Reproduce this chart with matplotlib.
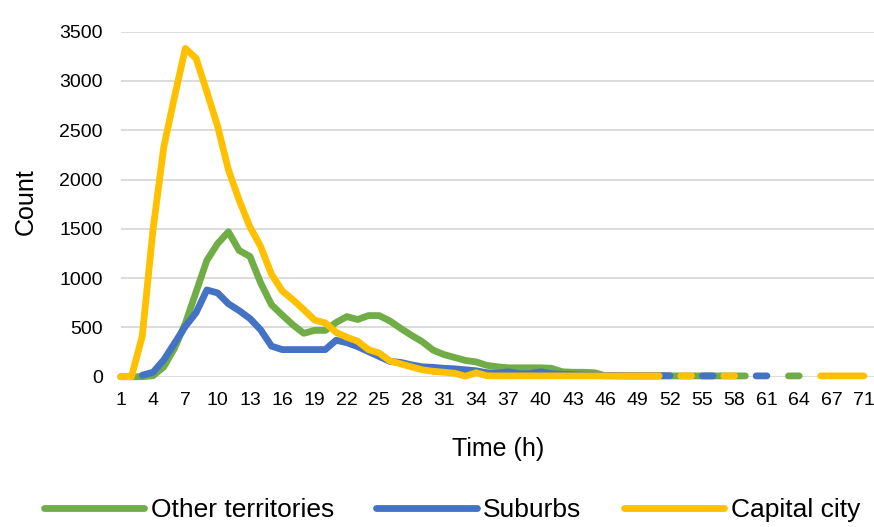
import numpy as np
import matplotlib
matplotlib.use("Agg")
import matplotlib.pyplot as plt
from matplotlib import font_manager

nan = np.nan

# hour labels on the category axis (one hour absent before 71)
hours = list(range(1, 70)) + [71]

# counts per hour (nan = no value, gap in line)
other_territories = [
    0, 0, 0, 10, 100, 290, 540, 860, 1180, 1350,
    1470, 1280, 1220, 950, 730, 625, 525, 440, 470, 470,
    550, 610, 580, 620, 620, 565, 490, 420, 355, 270,
    225, 195, 165, 150, 115, 100, 90, 90, 90, 90,
    85, 50, 45, 45, 40, 10, 8, 8, 8, 8,
    8, 8, 8, 8, 8, 8, 8, 8, 8, nan,
    nan, nan, 8, 8, nan, nan, nan, nan, nan, nan,
]
suburbs = [
    nan, nan, 15, 45, 170, 340, 510, 650, 880, 850,
    740, 670, 590, 475, 310, 275, 275, 275, 275, 275,
    370, 345, 305, 255, 205, 155, 145, 120, 100, 95,
    85, 80, 70, 60, 40, 35, 50, 30, 30, 50,
    30, 25, 20, 15, 15, 12, 12, 10, 10, 10,
    10, 10, nan, nan, 8, 8, nan, nan, nan, 8,
    8, nan, nan, nan, nan, nan, nan, nan, nan, nan,
]
capital_city = [
    0, 0, 410, 1490, 2330, 2840, 3330, 3230, 2890, 2540,
    2100, 1790, 1520, 1320, 1040, 870, 780, 680, 575, 545,
    450, 400, 360, 275, 240, 160, 130, 100, 70, 55,
    45, 35, 5, 40, 10, 8, 8, 8, 8, 8,
    8, 8, 8, 8, 8, 8, 8, 8, 8, 8,
    8, nan, 8, 8, nan, nan, 8, 8, nan, nan,
    nan, nan, nan, nan, nan, 8, 8, 8, 8, 8,
]

series = [
    ("Other territories", other_territories, "#70AD47"),
    ("Suburbs", suburbs, "#4472C4"),
    ("Capital city", capital_city, "#FFC000"),
]


def pick_font(names):
    for n in names:
        try:
            font_manager.findfont(n, fallback_to_default=False)
            return n
        except Exception:
            continue
    return "DejaVu Sans"


tick_font = pick_font(["Liberation Sans", "Arial"])
title_font = pick_font(["Liberation Sans Narrow", "Liberation Sans"])
plt.rcParams["font.family"] = [tick_font, "DejaVu Sans"]

W, H = 874, 527
fig = plt.figure(figsize=(W / 100, H / 100), dpi=100)
left_px, right_px = 120.7, 874
bot_px, top_px = 376.7, 31.7
ax = fig.add_axes([left_px / W, 1 - bot_px / H,
                   (right_px - left_px) / W, (bot_px - top_px) / H])

x = np.arange(len(hours))
for name, vals, col in series:
    ax.plot(x, np.array(vals, dtype=float), color=col, lw=4.9,
            solid_capstyle="round", solid_joinstyle="round",
            label=name, clip_on=False, zorder=3)

ax.set_xlim(0, (right_px - left_px) / 10.77)
ax.set_ylim(0, 3500)
ax.set_yticks(np.arange(0, 3501, 500))
ax.set_xticks(x[::3])
ax.set_xticklabels([str(h) for h in hours[::3]])
ax.grid(axis="y", color="#d9d9d9", lw=1.3, zorder=0)
ax.set_axisbelow(True)
for s in ax.spines.values():
    s.set_visible(False)
ax.tick_params(axis="both", length=0, labelsize=14, colors="#000000")
ax.tick_params(axis="x", pad=11)
ax.tick_params(axis="y", pad=13)

fig.text(25.8 / W, 1 - 201.7 / H, "Count", rotation=90, ha="center",
         va="center", fontsize=18, family=[title_font, "DejaVu Sans"])
fig.text(498 / W, 1 - 449 / H, "Time (h)", ha="center", va="center",
         fontsize=18, family=[title_font, "DejaVu Sans"])

handles, labels = ax.get_legend_handles_labels()
fig.legend(handles, labels, loc="center", bbox_to_anchor=(452 / W, 1 - 510 / H),
           ncol=3, frameon=False, handlelength=3.8, handletextpad=0.25,
           columnspacing=1.6, borderpad=0.2,
           prop={"family": [title_font, "DejaVu Sans"], "size": 19})

fig.savefig("out.png", dpi=100)
